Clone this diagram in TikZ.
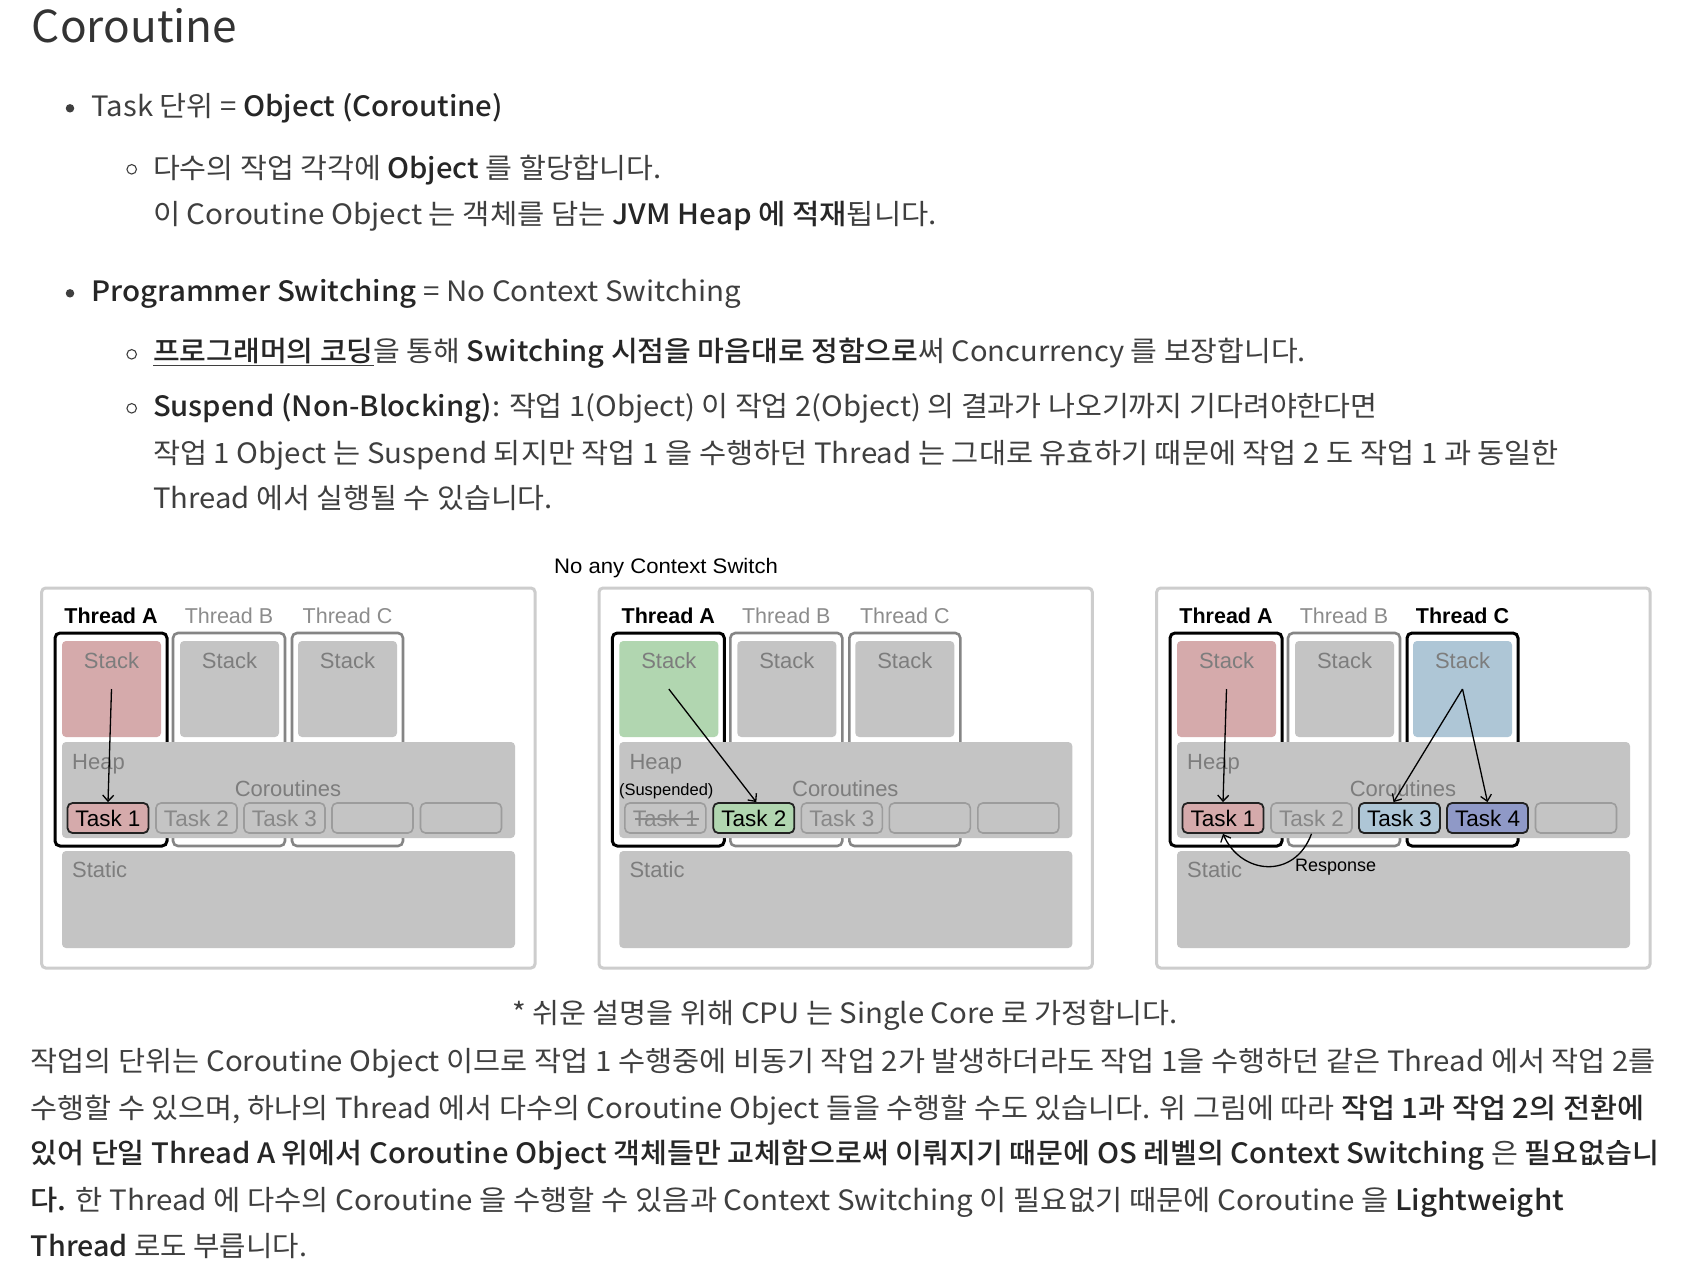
\documentclass[tikz,border=0pt]{standalone}
\usepackage{fontspec}
\usepackage{graphicx}
\setmainfont{Noto Sans CJK KR}[BoldFont={Noto Sans CJK KR Medium}]
\newfontfamily\dg{Liberation Sans}
\usetikzlibrary{arrows.meta}
\definecolor{txt}{HTML}{3F3F3F}
\definecolor{btxt}{HTML}{262626}
\definecolor{titlec}{HTML}{333333}
\definecolor{outerc}{HTML}{CDCDCD}
\definecolor{memc}{HTML}{C4C4C4}
\definecolor{frameoffc}{HTML}{858585}
\definecolor{labc}{HTML}{7D7D7D}
\definecolor{thoffc}{HTML}{8C8C8C}
\definecolor{taskoffc}{HTML}{9C9C9C}
\definecolor{taskofftxt}{HTML}{888888}
\definecolor{taskonc}{HTML}{222222}
\definecolor{pinkc}{HTML}{D5AAAB}
\definecolor{greenc}{HTML}{B1D6B0}
\definecolor{bluec}{HTML}{AEC6D6}
\definecolor{purplec}{HTML}{8F99C7}
\newcommand\B[1]{{\bfseries\color{btxt}#1}}
\newcommand\fitw[2]{\resizebox{#1}{\height}{#2}}
\newcommand\bx[6][]{\node[inner sep=0pt, outer sep=0pt, minimum width={(#5)-(#3)}, minimum height={(#6)-(#4)}, #1] (#2) at ({((#3)+(#5))/2},{((#4)+(#6))/2}) {};}
\tikzset{
 txtline/.style={anchor=base west, inner sep=0pt, outer sep=0pt, text=txt, font=\fontsize{28}{34}\selectfont},
 bdot/.style={circle, fill=txt, inner sep=0pt, minimum size=8.5pt},
 bring/.style={circle, draw=txt, line width=1.1pt, inner sep=0pt, minimum size=9.5pt},
 outerbox/.style={draw=outerc, line width=3pt, rounded corners=4pt, fill=white},
 frameon/.style={draw=black, line width=3pt, rounded corners=5pt},
 frameoff/.style={draw=frameoffc, line width=2.6pt, rounded corners=5pt},
 membox/.style={fill=memc, rounded corners=4pt},
 lab/.style={font=\dg\fontsize{22}{26}\selectfont, text=labc, inner sep=0pt, anchor=base},
 thon/.style={font=\dg\bfseries\fontsize{21.5}{26}\selectfont, text=black, inner sep=0pt, anchor=base},
 thoff/.style={font=\dg\fontsize{21.5}{26}\selectfont, text=thoffc, inner sep=0pt, anchor=base},
 task/.style={draw=taskoffc, fill=memc, line width=1.6pt, rounded corners=5pt, minimum width=81pt, minimum height=30pt, inner sep=0pt, font=\dg\fontsize{22.5}{26}\selectfont, text=taskofftxt},
 taskon/.style={task, draw=taskonc, line width=1.8pt, text=black},
 arr/.style={-{Straight Barb[length=6pt,width=11pt]}, line width=1.3pt, black},
 smalllab/.style={font=\dg\fontsize{16.5}{20}\selectfont, text=black, inner sep=0pt, anchor=base west},
}
\begin{document}
\begin{tikzpicture}[x=1pt,y=-1pt]
\useasboundingbox (0,0) rectangle (1696,1270);
\fill[white] (0,0) rectangle (1696,1270);

% ---------- text above ----------
\node[anchor=base west, inner sep=0pt, text=titlec, font=\fontsize{44}{50}\selectfont] (title) at (31.7,42.7) {\fitw{205.3pt}{Coroutine}};

\node[bdot] (b1) at (70,108.3) {};
\node[txtline] (l1) at (91.7,116.7) {\fitw{411.3pt}{Task 단위 = \B{Object (Coroutine)}}};
\node[bring] (r1) at (131.7,169.3) {};
\node[txtline] (l2) at (153,178.3) {\fitw{508.7pt}{다수의 작업 각각에 \B{Object} 를 할당합니다.}};
\node[txtline] (l3) at (153,224) {\fitw{784pt}{이 Coroutine Object 는 객체를 담는 \B{JVM Heap 에 적재}됩니다.}};

\node[bdot] (b2) at (70,293.3) {};
\node[txtline] (l4) at (91.7,301.7) {\fitw{649.3pt}{\B{Programmer Switching} = No Context Switching}};
\node[bring] (r2) at (131.7,354.3) {};
\node[txtline] (l5) at (153,361.7) {\fitw{1153pt}{\underline{\B{프로그래머의 코딩}}을 통해 \B{Switching 시점을 마음대로 정함으로}써 Concurrency 를 보장합니다.}};
\node[bring] (r3) at (131.7,408.3) {};
\node[txtline] (l6) at (153,416.7) {\fitw{1224.7pt}{\B{Suspend (Non-Blocking)}: 작업 1(Object) 이 작업 2(Object) 의 결과가 나오기까지 기다려야한다면}};
\node[txtline] (l7) at (153,463) {\fitw{1406pt}{작업 1 Object 는 Suspend 되지만 작업 1 을 수행하던 Thread 는 그대로 유효하기 때문에 작업 2 도 작업 1 과 동일한}};
\node[txtline] (l8) at (153,508) {\fitw{400pt}{Thread 에서 실행될 수 있습니다.}};

\node[anchor=base west, inner sep=0pt, text=black, font=\dg\fontsize{21}{25}\selectfont] (cap) at (554,573) {\fitw{223.7pt}{No any Context Switch}};

% ---------- panel 1 ----------
\begin{scope}
\bx[outerbox]{p1o}{41.7}{588}{535}{968}
\node[thon] (p1la) at (111,623.3) {Thread A};
\node[thoff] (p1lb) at (229,623.3) {Thread B};
\node[thoff] (p1lc) at (347.5,623.3) {Thread C};
\bx[frameon]{p1fa}{55}{633}{167}{846}
\bx[frameoff]{p1fb}{173}{633}{285}{846}
\bx[frameoff]{p1fc}{292}{633}{403}{846}
\bx[membox, fill=pinkc]{p1sa}{62}{641}{161}{737}
\bx[membox]{p1sb}{180}{641}{279}{737}
\bx[membox]{p1sc}{298}{641}{397}{737}
\node[lab] (p1ka) at (111.5,668.5) {Stack};
\node[lab] (p1kb) at (229.5,668.5) {Stack};
\node[lab] (p1kc) at (347.5,668.5) {Stack};
\bx[membox]{p1h}{62}{742}{515}{838}
\node[lab, anchor=base west] (p1hl) at (72,769) {Heap};
\node[lab] (p1cl) at (288,796) {Coroutines};
\node[taskon, fill=pinkc] (p1t1) at (108,818) {Task 1};
\node[task] (p1t2) at (196.5,818) {Task 2};
\node[task] (p1t3) at (284.5,818) {Task 3};
\node[task] (p1t4) at (372.5,818) {};
\node[task] (p1t5) at (461,818) {};
\bx[membox]{p1st}{62}{851}{515}{948}
\node[lab, anchor=base west] (p1stl) at (72,877.3) {Static};
\draw[arr] (p1sa.center) -- (p1t1.north);
\end{scope}

% ---------- panel 2 ----------
\begin{scope}[xshift=557.3pt]
\bx[outerbox]{p2o}{41.7}{588}{535}{968}
\node[thon] (p2la) at (111,623.3) {Thread A};
\node[thoff] (p2lb) at (229,623.3) {Thread B};
\node[thoff] (p2lc) at (347.5,623.3) {Thread C};
\bx[frameon]{p2fa}{55}{633}{167}{846}
\bx[frameoff]{p2fb}{173}{633}{285}{846}
\bx[frameoff]{p2fc}{292}{633}{403}{846}
\bx[membox, fill=greenc]{p2sa}{62}{641}{161}{737}
\bx[membox]{p2sb}{180}{641}{279}{737}
\bx[membox]{p2sc}{298}{641}{397}{737}
\node[lab] (p2ka) at (111.5,668.5) {Stack};
\node[lab] (p2kb) at (229.5,668.5) {Stack};
\node[lab] (p2kc) at (347.5,668.5) {Stack};
\bx[membox]{p2h}{62}{742}{515}{838}
\node[lab, anchor=base west] (p2hl) at (72,769) {Heap};
\node[lab] (p2cl) at (288,796) {Coroutines};
\node[smalllab] (p2su) at (61.5,795) {(Suspended)};
\node[task] (p2t1) at (108,818) {Task 1};
\draw[taskofftxt, line width=1.2pt] ([xshift=-30pt,yshift=-1pt]p2t1.center) -- ([xshift=34pt,yshift=-1pt]p2t1.center);
\node[taskon, fill=greenc] (p2t2) at (196.5,818) {Task 2};
\node[task] (p2t3) at (284.5,818) {Task 3};
\node[task] (p2t4) at (372.5,818) {};
\node[task] (p2t5) at (461,818) {};
\bx[membox]{p2st}{62}{851}{515}{948}
\node[lab, anchor=base west] (p2stl) at (72,877.3) {Static};
\draw[arr] (p2sa.center) -- ([xshift=2.5pt]p2t2.north);
\end{scope}

% ---------- panel 3 ----------
\begin{scope}[xshift=1115pt]
\bx[outerbox]{p3o}{41.7}{588}{535}{968}
\node[thon] (p3la) at (111,623.3) {Thread A};
\node[thoff] (p3lb) at (229,623.3) {Thread B};
\node[thon] (p3lc) at (347.5,623.3) {Thread C};
\bx[frameon]{p3fa}{55}{633}{167}{846}
\bx[frameoff]{p3fb}{173}{633}{285}{846}
\bx[frameon]{p3fc}{292}{633}{403}{846}
\bx[membox, fill=pinkc]{p3sa}{62}{641}{161}{737}
\bx[membox]{p3sb}{180}{641}{279}{737}
\bx[membox, fill=bluec]{p3sc}{298}{641}{397}{737}
\node[lab] (p3ka) at (111.5,668.5) {Stack};
\node[lab] (p3kb) at (229.5,668.5) {Stack};
\node[lab] (p3kc) at (347.5,668.5) {Stack};
\bx[membox]{p3h}{62}{742}{515}{838}
\node[lab, anchor=base west] (p3hl) at (72,769) {Heap};
\node[lab] (p3cl) at (288,796) {Coroutines};
\node[taskon, fill=pinkc] (p3t1) at (108,818) {Task 1};
\node[task] (p3t2) at (196.5,818) {Task 2};
\node[taskon, fill=bluec] (p3t3) at (284.5,818) {Task 3};
\node[taskon, fill=purplec] (p3t4) at (372.5,818) {Task 4};
\node[task] (p3t5) at (461,818) {};
\bx[membox]{p3st}{62}{851}{515}{948}
\node[lab, anchor=base west] (p3stl) at (72,877.3) {Static};
\draw[arr] (p3sa.center) -- (p3t1.north);
\draw[arr] (p3sc.center) -- ([xshift=-6pt]p3t3.north);
\draw[arr] (p3sc.center) -- (p3t4.north);
\draw[arr] (p3t2.south) .. controls +(-17,46) and +(18,41) .. (p3t1.south);
\node[smalllab, font=\dg\fontsize{18}{22}\selectfont] (p3resp) at (180,871.5) {Response};
\end{scope}

% ---------- text below ----------
\node[txtline] (fn) at (512,1023) {\fitw{666pt}{* 쉬운 설명을 위해 CPU 는 Single Core 로 가정합니다.}};
\node[txtline] (p1) at (30.7,1071.7) {\fitw{1625.3pt}{작업의 단위는 Coroutine Object 이므로 작업 1 수행중에 비동기 작업 2가 발생하더라도 작업 1을 수행하던 같은 Thread 에서 작업 2를}};
\node[txtline] (p2) at (30.7,1118) {\fitw{1613.3pt}{수행할 수 있으며, 하나의 Thread 에서 다수의 Coroutine Object 들을 수행할 수도 있습니다. 위 그림에 따라 \B{작업 1과 작업 2의 전환에}}};
\node[txtline] (p3) at (30.7,1163) {\fitw{1628.3pt}{\B{있어 단일 Thread A 위에서 Coroutine Object 객체들만 교체함으로써 이뤄지기 때문에 OS 레벨의 Context Switching} 은 \B{필요없습니}}};
\node[txtline] (p4) at (30.7,1210) {\fitw{1533.3pt}{\B{다.} 한 Thread 에 다수의 Coroutine 을 수행할 수 있음과 Context Switching 이 필요없기 때문에 Coroutine 을 \B{Lightweight}}};
\node[txtline] (p5) at (30.7,1256.7) {\fitw{276.3pt}{\B{Thread} 로도 부릅니다.}};
\end{tikzpicture}
\end{document}
